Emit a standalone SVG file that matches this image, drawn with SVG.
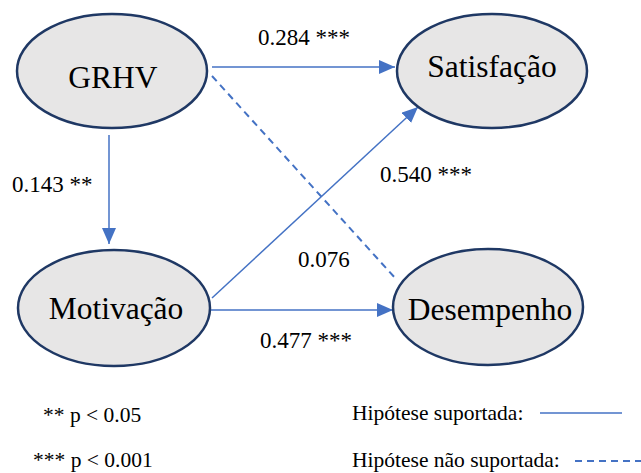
<svg xmlns="http://www.w3.org/2000/svg" width="641" height="473" viewBox="0 0 641 473">
<style>
.node ellipse{fill:#E7E6E6;stroke:#1F3864;stroke-width:2.5}
.node text{font-size:31.5px;text-anchor:middle;fill:#000}
.lbl{font-size:23px;fill:#000}
.leg{font-size:21.5px;fill:#000}
.edge{stroke:#4472C4;stroke-width:1.5;fill:none}
.dash{stroke-width:2;stroke-dasharray:7 5}
</style>
<defs>
<marker id="arr" markerUnits="userSpaceOnUse" markerWidth="16" markerHeight="14" refX="16" refY="7" orient="auto">
<path d="M0,0 L16,7 L0,14 Z" fill="#4472C4"/>
</marker>
</defs>
<rect width="641" height="473" fill="#fff"/>
<g id="connectors">
<line class="edge" x1="212" y1="67" x2="395" y2="67" marker-end="url(#arr)"/>
<line class="edge dash" x1="212" y1="76" x2="396" y2="279"/>
<line class="edge" x1="109" y1="135" x2="109" y2="244" marker-end="url(#arr)"/>
<line class="edge" x1="212" y1="298" x2="418" y2="107" marker-end="url(#arr)"/>
<line class="edge" x1="211" y1="310" x2="393" y2="310" marker-end="url(#arr)"/>
</g>
<g font-family="Liberation Serif, serif">
<g id="node-grhv" class="node"><ellipse cx="112" cy="71" rx="95" ry="57"/><text x="113" y="88">GRHV</text></g>
<g id="node-satisfacao" class="node"><ellipse cx="492" cy="71" rx="95" ry="57"/><text x="492" y="77">Satisfação</text></g>
<g id="node-motivacao" class="node"><ellipse cx="114" cy="308" rx="96" ry="58"/><text x="116" y="319">Motivação</text></g>
<g id="node-desempenho" class="node"><ellipse cx="488" cy="307" rx="95" ry="58"/><text x="490" y="320">Desempenho</text></g>
<g id="labels">
<text class="lbl" x="258" y="45">0.284 ***</text>
<text class="lbl" x="12" y="192">0.143 **</text>
<text class="lbl" x="380" y="182">0.540 ***</text>
<text class="lbl" x="298" y="267">0.076</text>
<text class="lbl" x="260" y="348">0.477 ***</text>
</g>
<g id="legend">
<text class="leg" x="43" y="422">** p &lt; 0.05</text>
<text class="leg" x="33" y="467">*** p &lt; 0.001</text>
<text class="leg" x="352" y="420">Hipótese suportada:</text>
<line class="edge" x1="540" y1="413" x2="622" y2="413"/>
<text class="leg" x="352" y="467">Hipótese não suportada:</text>
<line class="edge dash" x1="575" y1="461" x2="641" y2="461"/>
</g>
</g>
</svg>
